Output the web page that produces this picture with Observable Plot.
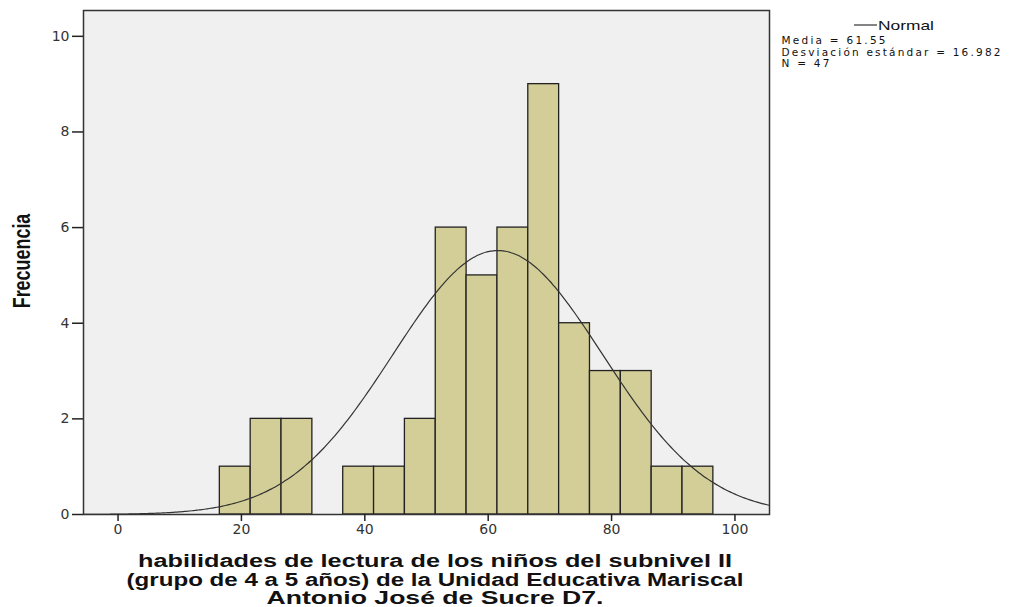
<!DOCTYPE html>
<html>
<head>
<meta charset="utf-8">
<script src="https://cdn.jsdelivr.net/npm/d3@7"></script>
<script src="https://cdn.jsdelivr.net/npm/@observablehq/plot@0.6"></script>
<style>
  html, body { margin: 0; padding: 0; background: #ffffff; }
  #chart svg { display: block; }
</style>
</head>
<body>
<div id="chart"></div>
<script>
// ---- Data ----
const binStarts = [16.5, 21.5, 26.5, 31.5, 36.5, 41.5, 46.5, 51.5, 56.5, 61.5, 66.5, 71.5, 76.5, 81.5, 86.5, 91.5];
const binWidth = 5;
const counts = [1, 2, 2, 0, 1, 1, 2, 6, 5, 6, 9, 4, 3, 3, 1, 1];
const xTicks = [0, 20, 40, 60, 80, 100];
const yTicks = [0, 2, 4, 6, 8, 10];
const statMean = 61.55;
const statSD = 16.982;
const statN = 47;
const legendLines = ["Media = 61.55", "Desviación estándar = 16.982", "N = 47"];
const legendName = "Normal";
const yTitle = "Frecuencia";
const xTitleLines = [
  "habilidades de lectura de los niños del subnivel II",
  "(grupo de 4 a 5 años) de la Unidad Educativa Mariscal",
  "Antonio José de Sucre D7."
];

const xDomain = [-5.6, 105.6];
const yDomain = [0, 10.54];

const bins = binStarts.map((s, i) => ({x1: s, x2: s + binWidth, count: counts[i]})).filter(d => d.count > 0);

// Fitted normal curve (scaled to counts) from the legend statistics
const curve = d3.range(xDomain[0], xDomain[1] + 0.001, 0.4).map(x => ({
  x,
  y: statN * binWidth / (statSD * Math.sqrt(2 * Math.PI)) * Math.exp(-0.5 * ((x - statMean) / statSD) ** 2)
}));

const tickFont = "'DejaVu Sans', sans-serif";

const chart = Plot.plot({
  width: 1018,
  height: 607,
  marginLeft: 83,
  marginRight: 249,
  marginTop: 10,
  marginBottom: 93,
  style: {background: "#ffffff", fontFamily: tickFont, color: "#333"},
  x: {domain: xDomain, label: null},
  y: {domain: yDomain, label: null},
  marks: [
    Plot.frame({fill: "#f0f0f0"}),
    Plot.rectY(bins, {x1: "x1", x2: "x2", y: "count", fill: "#d3ce98", stroke: "#222", strokeWidth: 1.3}),
    Plot.line(curve, {x: "x", y: "y", stroke: "#333", strokeWidth: 1.2, curve: "basis"}),
    Plot.frame({stroke: "#333", strokeWidth: 1.5}),
    Plot.axisX({ticks: xTicks, tickSize: 7, tickPadding: 3, fontSize: 14, stroke: "#222", strokeWidth: 1.5, tickFormat: d3.format("d")}),
    Plot.axisY({ticks: yTicks, tickSize: 11, tickPadding: 3, fontSize: 14, stroke: "#222", strokeWidth: 1.5, tickFormat: d3.format("d")})
  ]
});

document.getElementById("chart").appendChild(chart);

const svg = d3.select(chart);

// Y title
svg.append("text")
  .attr("transform", "translate(30,261) rotate(-90) scale(0.78,1)")
  .attr("text-anchor", "middle")
  .attr("font-family", "'Liberation Sans', Arial, sans-serif")
  .attr("font-weight", "bold")
  .attr("font-size", 23)
  .attr("fill", "#111")
  .text(yTitle);

// X title (three lines)
const xtBaselines = [567, 585.5, 604];
const xtWidths = [594, 617, 337];
xTitleLines.forEach((t, i) => {
  svg.append("text")
    .attr("x", 435)
    .attr("y", xtBaselines[i])
    .attr("text-anchor", "middle")
    .attr("font-family", "'Liberation Sans', Arial, sans-serif")
    .attr("font-weight", "bold")
    .attr("font-size", 18)
    .attr("fill", "#111")
    .attr("textLength", xtWidths[i])
    .attr("lengthAdjust", "spacingAndGlyphs")
    .text(t);
});

// Legend
svg.append("line")
  .attr("x1", 854).attr("x2", 877).attr("y1", 25).attr("y2", 25)
  .attr("stroke", "#333").attr("stroke-width", 1.2);
svg.append("text")
  .attr("x", 878).attr("y", 30)
  .attr("text-anchor", "start")
  .attr("font-family", "'Liberation Sans', Arial, sans-serif")
  .attr("font-size", 13)
  .attr("fill", "#111")
  .attr("textLength", 56)
  .attr("lengthAdjust", "spacingAndGlyphs")
  .text(legendName);
const lgBaselines = [44, 55.5, 66.5];
const lgWidths = [104, 219, 48];
legendLines.forEach((t, i) => {
  svg.append("text")
    .attr("x", 781.5).attr("y", lgBaselines[i])
    .attr("text-anchor", "start")
    .attr("font-family", "'DejaVu Sans', sans-serif")
    .attr("font-size", 10.5)
    .attr("fill", "#111")
    .attr("textLength", lgWidths[i])
    .attr("lengthAdjust", "spacing")
    .text(t);
});
</script>
</body>
</html>
